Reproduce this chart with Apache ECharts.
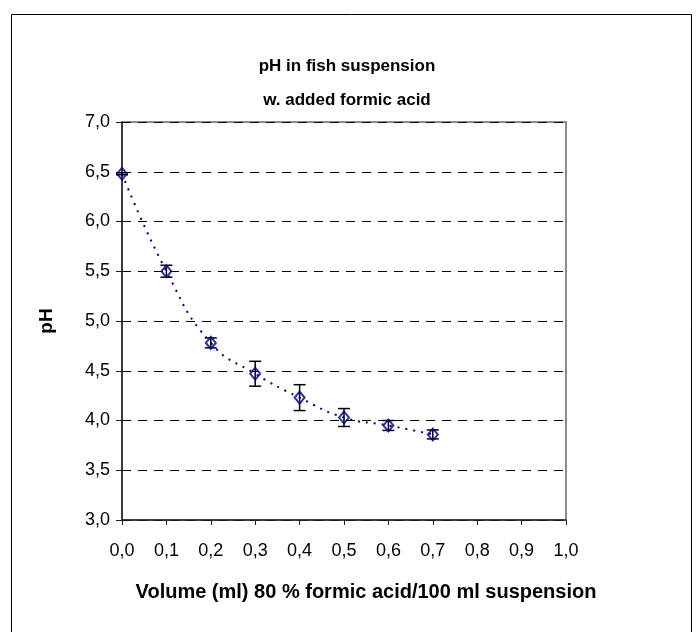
<!DOCTYPE html>
<html>
<head>
<meta charset="utf-8">
<script src="https://cdn.jsdelivr.net/npm/echarts@6/dist/echarts.min.js"></script>
<style>
html,body{margin:0;padding:0;background:#fff;}
#chart{width:698px;height:632px;}
</style>
</head>
<body>
<div id="chart"></div>
<script>
// Data
var volumes = [0.0, 0.1, 0.2, 0.3, 0.4, 0.5, 0.6, 0.7];
var phValues = [6.48, 5.50, 4.78, 4.47, 4.23, 4.03, 3.95, 3.86];
var phErrors = [0.01, 0.06, 0.05, 0.125, 0.13, 0.09, 0.05, 0.045];
var xTicks = [0.0, 0.1, 0.2, 0.3, 0.4, 0.5, 0.6, 0.7, 0.8, 0.9, 1.0];
var yTicks = [3.0, 3.5, 4.0, 4.5, 5.0, 5.5, 6.0, 6.5, 7.0];

var titleText = 'pH in fish suspension\nw. added formic acid';
var xTitle = 'Volume (ml) 80 % formic acid/100 ml suspension';
var yTitle = 'pH';

var pts = volumes.map(function (v, i) { return [v, phValues[i]]; });
var errData = volumes.map(function (v, i) { return [v, phValues[i] - phErrors[i], phValues[i] + phErrors[i]]; });

var FONT = '"Liberation Sans", Arial, sans-serif';
function fmt(v) { return v.toFixed(1).replace('.', ','); }

var chart = echarts.init(document.getElementById('chart'), null, {renderer: 'canvas'});
chart.setOption({
  animation: false,
  backgroundColor: '#fff',
  title: {
    text: titleText,
    left: 342, top: 44, textAlign: 'center',
    textStyle: {fontFamily: FONT, fontSize: 17, fontWeight: 'bold', color: '#000', lineHeight: 34}
  },
  graphic: [{
    type: 'rect', left: 9, top: 12, silent: true,
    shape: {width: 680, height: 700},
    style: {fill: 'none', stroke: '#000', lineWidth: 1}
  }],
  grid: {left: 122, right: 132, top: 122, bottom: 112, show: true, borderColor: '#8c8c8c', borderWidth: 2, backgroundColor: 'transparent'},
  xAxis: {
    type: 'value', min: 0, max: 1, interval: 0.1,
    name: xTitle, nameLocation: 'middle', nameGap: 62,
    nameTextStyle: {fontFamily: FONT, fontSize: 20, fontWeight: 'bold', color: '#000', padding: [0, 0, 0, 44]},
    axisLine: {onZero: false, lineStyle: {color: '#222', width: 1.5}},
    axisTick: {show: true, inside: false, length: 5, lineStyle: {color: '#222', width: 1}},
    axisLabel: {margin: 22, fontFamily: FONT, fontSize: 18, color: '#000',
      formatter: function (v) { return fmt(v); }},
    splitLine: {show: false}
  },
  yAxis: {
    type: 'value', min: 3, max: 7, interval: 0.5,
    name: yTitle, nameLocation: 'middle', nameGap: 66, nameRotate: 90,
    nameTextStyle: {fontFamily: FONT, fontSize: 19, fontWeight: 'bold', color: '#000'},
    axisLine: {show: true, onZero: false, lineStyle: {color: '#222', width: 1.5}},
    axisTick: {show: true, inside: false, length: 6, lineStyle: {color: '#222', width: 1}},
    axisLabel: {margin: 12, fontFamily: FONT, fontSize: 18, color: '#000',
      formatter: function (v) { return fmt(v); }},
    splitLine: {show: true, lineStyle: {color: '#000', width: 1, type: [9, 7]}}
  },
  series: [
    {
      type: 'line', data: pts, smooth: 0.5, showSymbol: false, z: 2,
      lineStyle: {color: '#000080', width: 2, type: [2, 6]}
    },
    {
      type: 'custom', z: 3,
      data: errData,
      renderItem: function (params, api) {
        var x = api.value(0);
        var lo = api.coord([x, api.value(1)]);
        var hi = api.coord([x, api.value(2)]);
        var hw = 6;
        var st = {stroke: '#000', lineWidth: 1.5, fill: 'none'};
        return {
          type: 'group',
          children: [
            {type: 'line', shape: {x1: lo[0], y1: lo[1], x2: hi[0], y2: hi[1]}, style: st},
            {type: 'line', shape: {x1: lo[0] - hw, y1: lo[1], x2: lo[0] + hw, y2: lo[1]}, style: st},
            {type: 'line', shape: {x1: hi[0] - hw, y1: hi[1], x2: hi[0] + hw, y2: hi[1]}, style: st}
          ]
        };
      }
    },
    {
      type: 'scatter', data: pts, z: 4,
      symbol: 'diamond', symbolSize: [10, 12],
      itemStyle: {color: 'rgba(255,255,255,0)', borderColor: '#000080', borderWidth: 2}
    }
  ]
});
</script>
</body>
</html>
